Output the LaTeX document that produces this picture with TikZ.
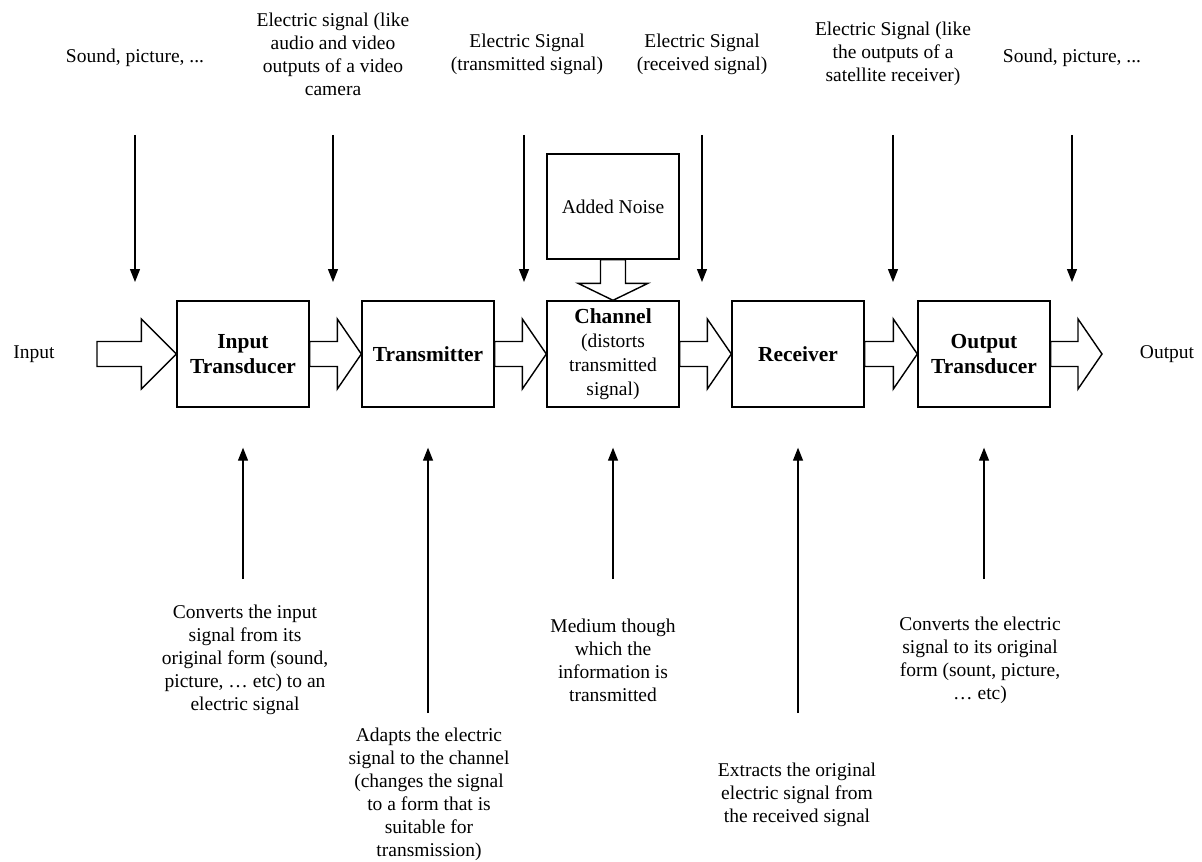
\documentclass[tikz,border=0pt]{standalone}
\usepackage{fontspec}
\setmainfont{Liberation Serif}
\usetikzlibrary{arrows.meta,calc}

\newcommand{\fatw}{0.25cm}
\newcommand{\fath}{0.7cm}
% fleche creuse : depart, arrivee, longueur de la pointe
\newcommand{\fatarrow}[3]{%
  \coordinate (fa) at ($(#2)!#3!(#1)$);
  \draw[hollow] ($(#1)!\fatw!90:(#2)$) -- ($(fa)!\fatw!90:(#2)$) -- ($(fa)!\fath!90:(#2)$) -- (#2)
    -- ($(fa)!\fath!-90:(#2)$) -- ($(fa)!\fatw!-90:(#2)$) -- ($(#1)!\fatw!-90:(#2)$) -- cycle;}

\begin{document}
\begin{tikzpicture}[x=0.02cm, y=-0.02cm,
	bloc/.style={draw, line width=0.8pt, minimum width=2.64cm, minimum height=2.12cm, inner sep=2pt, align=center, font=\fontsize{12.2}{14.2}\selectfont\bfseries},
	txt/.style={align=center, inner sep=0pt, font=\fontsize{11.1}{13.1}\selectfont},
	sig/.style={-{Triangle[length=0.26cm,width=0.2cm]}, line width=0.7pt},
	hollow/.style={draw, line width=0.8pt, line join=miter}]
		\useasboundingbox (0,0) rectangle (1202,861);
		%Blocs de la chaine
		\node[bloc] (IT) at (243,354) {Input\\Transducer};
		\node[bloc] (TX) at (428,354) {Transmitter};
		\node[bloc, font=\fontsize{11.1}{13.6}\selectfont] (CH) at (613,354) {{\fontsize{12.2}{13.6}\selectfont\bfseries Channel}\\(distorts\\transmitted\\signal)};
		\node[bloc] (RX) at (798,354) {Receiver};
		\node[bloc] (OT) at (984,354) {Output\\Transducer};
		\node[bloc, minimum height=2.1cm, font=\fontsize{11.1}{13.1}\selectfont] (AN) at (613,206.5) {Added Noise};
		%Entree et sortie
		\node[txt] (in) at (34,354) {Input};
		\node[txt] (out) at (1167,354) {Output};
		\coordinate (inq) at (97,354);
		\coordinate (outq) at (1102,354);
		%Fleches creuses
		\fatarrow{inq}{IT.west}{0.7cm}
		\fatarrow{IT.east}{TX.west}{0.48cm}
		\fatarrow{TX.east}{CH.west}{0.48cm}
		\fatarrow{CH.east}{RX.west}{0.48cm}
		\fatarrow{RX.east}{OT.west}{0.48cm}
		\fatarrow{OT.east}{outq}{0.48cm}
		\fatarrow{AN.south}{CH.north}{0.34cm}
		%Signaux en haut
		\node[txt] (t1) at (135,58) {Sound, picture, ...};
		\node[txt] (t2) at (333,54) {Electric signal (like\\audio and video\\outputs of a video\\camera};
		\node[txt] (t3) at (527,54) {Electric Signal\\(transmitted signal)};
		\node[txt] (t4) at (702,54) {Electric Signal\\(received signal)};
		\node[txt] (t5) at (893,54) {Electric Signal (like\\the outputs of a\\satellite receiver)};
		\node[txt] (t6) at (1072,58) {Sound, picture, ...};
		\coordinate (d1) at (135,135); \coordinate (e1) at (135,282);
		\coordinate (d2) at (333,135); \coordinate (e2) at (333,282);
		\coordinate (d3) at (524,135); \coordinate (e3) at (524,282);
		\coordinate (d4) at (702,135); \coordinate (e4) at (702,282);
		\coordinate (d5) at (893,135); \coordinate (e5) at (893,282);
		\coordinate (d6) at (1072,135); \coordinate (e6) at (1072,282);
		\draw[sig] (d1) -- (e1);
		\draw[sig] (d2) -- (e2);
		\draw[sig] (d3) -- (e3);
		\draw[sig] (d4) -- (e4);
		\draw[sig] (d5) -- (e5);
		\draw[sig] (d6) -- (e6);
		%Roles des blocs en bas
		\node[txt] (b1) at (245,660) {Converts the input\\signal from its\\original form (sound,\\picture, … etc) to an\\electric signal};
		\node[txt] (b2) at (429,794) {Adapts the electric\\signal to the channel\\(changes the signal\\to a form that is\\suitable for\\transmission)};
		\node[txt] (b3) at (613,660) {Medium though\\which the\\information is\\transmitted};
		\node[txt] (b4) at (797,795) {Extracts the original\\electric signal from\\the received signal};
		\node[txt] (b5) at (980,660) {Converts the electric\\signal to its original\\form (sount, picture,\\… etc)};
		\coordinate (u1) at (243,579);
		\coordinate (u2) at (428,713);
		\coordinate (u3) at (613,579);
		\coordinate (u4) at (798,713);
		\coordinate (u5) at (984,579);
		\draw[sig, shorten >=0.8cm] (u1) -- (IT.south);
		\draw[sig, shorten >=0.8cm] (u2) -- (TX.south);
		\draw[sig, shorten >=0.8cm] (u3) -- (CH.south);
		\draw[sig, shorten >=0.8cm] (u4) -- (RX.south);
		\draw[sig, shorten >=0.8cm] (u5) -- (OT.south);
	\end{tikzpicture}
\end{document}
